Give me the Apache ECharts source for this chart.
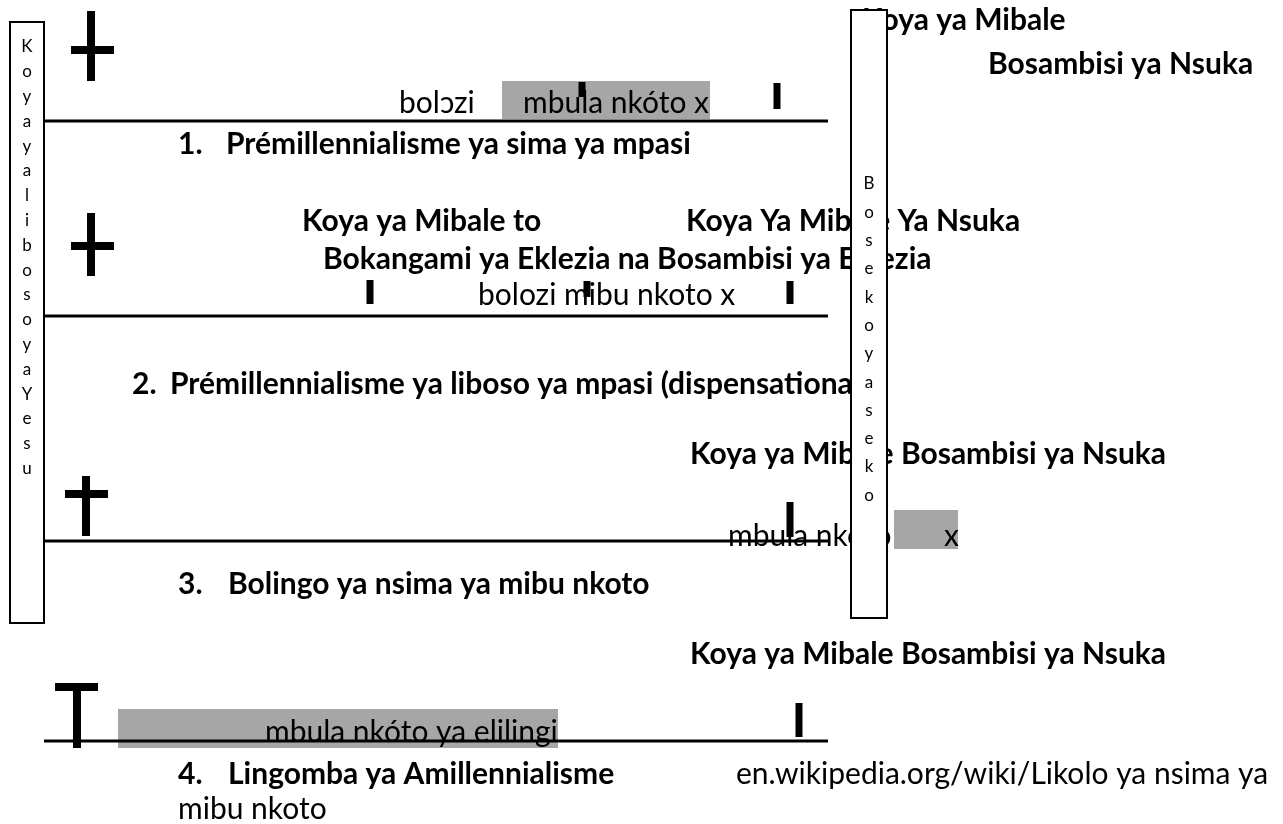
<!DOCTYPE html>
<html>
<head>
<meta charset="utf-8">
<script src="https://cdn.jsdelivr.net/npm/echarts@6/dist/echarts.min.js"></script>
<style>
  html, body { margin: 0; padding: 0; background: #fff; }
  #chart { width: 1283px; height: 824px; }
</style>
</head>
<body>
<div id="chart"></div>
<script>
// diagram units = page pixels of the reference (y grows downward)
const timelineY = [121, 316, 541, 741];
const timelineX = [44, 828];

// crosses: vertical post and cross bar
const crossX = [91, 91, 86, 77];
const crossTop = [11, 213, 476, 683];
const crossBottom = [81, 276, 536, 748];
const crossBarY = [50, 246, 494, 687];
const crossBarLeft = [71, 71, 65, 55];
const crossBarRight = [114, 114, 108, 98];

// small event ticks
const tickX = [582, 777, 370, 587, 790, 790, 799];
const tickTop = [82, 83, 280, 281, 281, 502, 703];
const tickBottom = [97, 109, 304, 297, 304, 537, 737];

// grey highlighted spans [x0, x1, y0, y1]
const highlights = [[502, 710, 81, 119], [894, 958, 510, 549], [118, 558, 709, 748]];

// side frames [x0, x1, y0, y1] and their stacked letters
const frames = [[10, 44, 22, 623], [851, 887, 10, 618]];
const frameWords = ['KoyayalibosoyaYesu', 'Bosekoyaseko'];
const frameFirstLetterY = [47, 184];

// bold headings
const headingText = [
  'Koya ya Mibale', 'Bosambisi ya Nsuka',
  '1.', 'Prémillennialisme ya sima ya mpasi',
  'Koya ya Mibale to', 'Koya Ya Mibale Ya Nsuka',
  'Bokangami ya Eklezia na Bosambisi ya Eklezia',
  '2.', 'Prémillennialisme ya liboso ya mpasi (dispensationa',
  'Koya ya Mibale Bosambisi ya Nsuka',
  '3.', 'Bolingo ya nsima ya mibu nkoto',
  'Koya ya Mibale Bosambisi ya Nsuka',
  '4.', 'Lingomba ya Amillennialisme'
];
const headingX = [862, 988, 178, 226, 302, 686, 323, 132, 170, 690, 178, 228, 690, 178, 228];
const headingY = [27, 71, 151, 151, 228, 228, 266, 391, 391, 461, 591, 591, 661, 781, 781];

// regular notes
const noteText = [
  'bolɔzi', 'mbula nkóto x', 'bolozi mibu nkoto x',
  'mbula nkóto', 'x', 'mbula nkóto ya elilingi',
  'mibu nkoto', 'en.wikipedia.org/wiki/Likolo ya nsima ya'
];
const noteX = [399, 523, 478, 728, 944, 265, 178, 736];
const noteY = [110, 110, 302, 543, 543, 739, 816, 781];

const FONT = 'Lato, "Noto Sans", sans-serif';
const TEXT_SIZE = 30;

const chart = echarts.init(document.getElementById('chart'));

function textSeries(name, texts, xs, ys, weight, z) {
  return {
    name: name,
    type: 'custom',
    z: z,
    data: xs.map((x, i) => [x, ys[i]]),
    renderItem: (params, api) => {
      const p = api.coord([api.value(0), api.value(1)]);
      return {
        type: 'text',
        x: p[0],
        y: p[1] - TEXT_SIZE * 0.22,
        style: {
          text: texts[params.dataIndex],
          fill: '#000',
          font: weight + ' ' + TEXT_SIZE + 'px ' + FONT,
          align: 'left',
          verticalAlign: 'middle'
        }
      };
    }
  };
}

const option = {
  animation: false,
  grid: { left: 0, right: 0, top: 0, bottom: 0 },
  xAxis: { type: 'value', min: 0, max: 1283, show: false },
  yAxis: { type: 'value', min: 0, max: 824, inverse: true, show: false },
  series: [
    {
      name: 'highlight',
      type: 'custom',
      z: 1,
      data: highlights,
      renderItem: (params, api) => {
        const a = api.coord([api.value(0), api.value(2)]);
        const b = api.coord([api.value(1), api.value(3)]);
        return {
          type: 'rect',
          shape: { x: a[0], y: a[1], width: b[0] - a[0], height: b[1] - a[1] },
          style: { fill: '#a6a6a6' }
        };
      }
    },
    textSeries('notes', noteText, noteX, noteY, 'normal', 2),
    textSeries('headings', headingText, headingX, headingY, 'bold', 2),
    {
      name: 'timeline',
      type: 'custom',
      z: 3,
      data: timelineY.map(y => [timelineX[0], y, timelineX[1]]),
      renderItem: (params, api) => {
        const a = api.coord([api.value(0), api.value(1)]);
        const b = api.coord([api.value(2), api.value(1)]);
        return {
          type: 'line',
          shape: { x1: a[0], y1: a[1], x2: b[0], y2: b[1] },
          style: { stroke: '#000', lineWidth: 3 }
        };
      }
    },
    {
      name: 'ticks',
      type: 'custom',
      z: 4,
      data: tickX.map((x, i) => [x, tickTop[i], tickBottom[i]]),
      renderItem: (params, api) => {
        const a = api.coord([api.value(0), api.value(1)]);
        const b = api.coord([api.value(0), api.value(2)]);
        return {
          type: 'rect',
          shape: { x: a[0] - 3.5, y: a[1], width: 7, height: b[1] - a[1] },
          style: { fill: '#000' }
        };
      }
    },
    {
      name: 'crosses',
      type: 'custom',
      z: 4,
      data: crossX.map((x, i) => [x, crossTop[i], crossBottom[i], crossBarY[i], crossBarLeft[i], crossBarRight[i]]),
      renderItem: (params, api) => {
        const top = api.coord([api.value(0), api.value(1)]);
        const bottom = api.coord([api.value(0), api.value(2)]);
        const barL = api.coord([api.value(4), api.value(3)]);
        const barR = api.coord([api.value(5), api.value(3)]);
        return {
          type: 'group',
          children: [
            {
              type: 'rect',
              shape: { x: top[0] - 4, y: top[1], width: 8, height: bottom[1] - top[1] },
              style: { fill: '#000' }
            },
            {
              type: 'rect',
              shape: { x: barL[0], y: barL[1] - 4, width: barR[0] - barL[0], height: 8 },
              style: { fill: '#000' }
            }
          ]
        };
      }
    },
    {
      name: 'frames',
      type: 'custom',
      z: 5,
      data: frames,
      renderItem: (params, api) => {
        const a = api.coord([api.value(0), api.value(2)]);
        const b = api.coord([api.value(1), api.value(3)]);
        const step = params.dataIndex === 0 ? 24.8 : 28.3;
        const first = api.coord([api.value(0), frameFirstLetterY[params.dataIndex]]);
        return {
          type: 'group',
          children: [
            {
              type: 'rect',
              shape: { x: a[0], y: a[1], width: b[0] - a[0], height: b[1] - a[1] },
              style: { fill: '#fff', stroke: '#000', lineWidth: 2 }
            },
            {
              type: 'text',
              x: (a[0] + b[0]) / 2,
              y: first[1] - step / 2,
              style: {
                text: frameWords[params.dataIndex].split('').join('\n'),
                fill: '#000',
                font: 'normal 17px ' + FONT,
                lineHeight: step,
                align: 'center',
                verticalAlign: 'top'
              }
            }
          ]
        };
      }
    }
  ]
};

chart.setOption(option);
</script>
</body>
</html>
